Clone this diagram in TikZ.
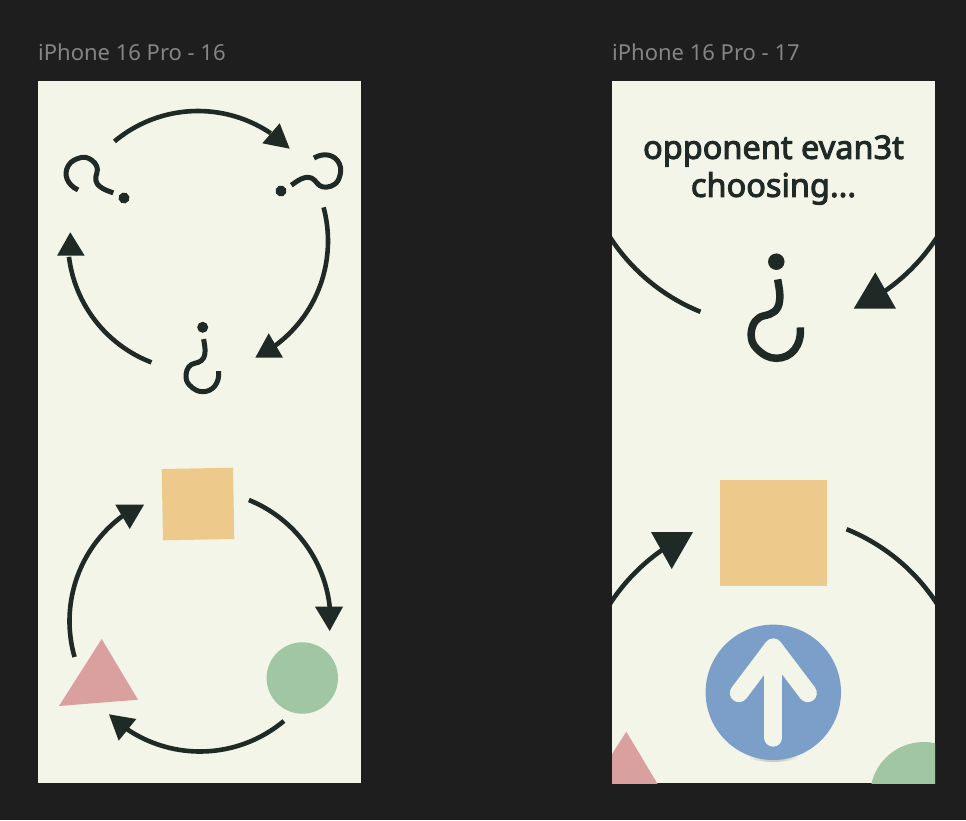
\documentclass[tikz,border=0pt]{standalone}
\usepackage{fontspec}
\setmainfont{Noto Sans}
\newfontfamily\oppfont{Noto Sans}[FakeBold=3]
\definecolor{canvasbg}{HTML}{1E1E1E}
\definecolor{panelbg}{HTML}{F3F5E8}
\definecolor{ink}{HTML}{1F2926}
\definecolor{framegray}{HTML}{858585}
\definecolor{sandsq}{HTML}{EEC98C}
\definecolor{leafgreen}{HTML}{A0C6A3}
\definecolor{rosetri}{HTML}{D9A09F}
\definecolor{skyblue}{HTML}{7C9FC9}
\tikzset{
    ringline/.style={draw=ink, line width=4.6pt},
    headtip/.style={fill=ink},
    framelabel/.style={text=framegray, font=\fontsize{22}{26}\selectfont, anchor=west, inner sep=0pt},
    qmark/.pic={
        \fill[ink] (0,0) circle (5.5);
        \draw[ink, line width=5pt*\qscale, line join=round]
            (0.9,11.8) .. controls (2,18) and (2.8,22) .. (2.2,26)
            .. controls (1.5,33) and (-3,35) .. (-8,36)
            .. controls (-13,37) and (-16,41) .. (-16.7,47)
            .. controls (-17,52) and (-16,55) .. (-13,58)
            .. controls (-9,62) and (-5,64.4) .. (0,64.4)
            .. controls (10,64.4) and (17,56) .. (16,43.8);
    }
}
\newcommand{\qscale}{1}
\begin{document}
\begin{tikzpicture}[x=1pt, y=-1pt]
    % 1. Nền và hai khung
    \fill[canvasbg] (0,0) rectangle (966,820);
    \fill[panelbg] (38,81) rectangle (361,783);
    \fill[panelbg] (612,81) rectangle (935,783);
    \node[framelabel] (frameA) at (38,52) {iPhone 16 Pro - 16};
    \node[framelabel] (frameB) at (612,52) {iPhone 16 Pro - 17};

    % 2. Vòng dấu hỏi bên trái
    \pic at (124,198) [rotate=-120] {qmark};
    \pic at (281,191) [rotate=115] {qmark};
    \pic at (202.7,327.3) {qmark};
    \draw[ringline] plot[domain=230:304, samples=40] ({198+130*cos(\x)}, {241+130*sin(\x)});
    \draw[ringline] plot[domain=-15:55, samples=40] ({198+130*cos(\x)}, {241+130*sin(\x)});
    \draw[ringline] plot[domain=111:173, samples=40] ({198+130*cos(\x)}, {241+130*sin(\x)});
    \fill[headtip] (289.7,148.7) -- (279.7,123.3) -- (262.3,143.3) -- cycle;
    \fill[headtip] (268.7,333.3) -- (255.3,357.7) -- (283,357.7) -- cycle;
    \fill[headtip] (70.3,232.3) -- (57,255.7) -- (84.7,255.7) -- cycle;

    % 3. Vòng hình khối bên trái
    \fill[sandsq] (161.7,469) -- (233,467.7) -- (234.3,539) -- (163,540.3) -- cycle;
    \fill[leafgreen] (302.3,678) circle (35.7);
    \fill[rosetri] (101.7,639) -- (138,699.7) -- (59,706) -- cycle;
    \draw[ringline] plot[domain=-68:-6, samples=40] ({200+130.5*cos(\x)}, {621+130.5*sin(\x)});
    \draw[ringline] plot[domain=50:127, samples=40] ({200+130.5*cos(\x)}, {621+130.5*sin(\x)});
    \draw[ringline] plot[domain=164:235, samples=40] ({200+130.5*cos(\x)}, {621+130.5*sin(\x)});
    \fill[headtip] (329.7,631) -- (315,606.7) -- (343,606.7) -- cycle;
    \fill[headtip] (109,714.3) -- (136.3,719) -- (118.7,740.7) -- cycle;
    \fill[headtip] (115.3,504.7) -- (144,504.7) -- (129.7,529) -- cycle;

    % 4. Khung bên phải, cắt theo khung
    \begin{scope}
        \clip (612,81) rectangle (935,783);
        \draw[ringline] plot[domain=112:165, samples=40] ({773.5+195*cos(\x)}, {131+195*sin(\x)});
        \draw[ringline] plot[domain=15:55, samples=40] ({773.5+195*cos(\x)}, {131+195*sin(\x)});
        \draw[ringline] plot[domain=195:236, samples=40] ({773.5+195*cos(\x)}, {710+195*sin(\x)});
        \draw[ringline] plot[domain=-68:-20, samples=40] ({773.5+195*cos(\x)}, {710+195*sin(\x)});
        \fill[rosetri] (626.3,731.7) -- (680.8,822.7) -- (562,832) -- cycle;
        \fill[leafgreen] (923.7,795.6) circle (53.6);
    \end{scope}
    \node[text=ink, font=\oppfont\fontsize{32.5}{38}\selectfont, align=center] (oppText) at (773.5,170) {opponent evan3t\\choosing...};
    \renewcommand{\qscale}{1.5}
    \pic at (776.3,261.7) [scale=1.5] {qmark};
    \fill[headtip] (875.3,272.3) -- (853.7,308.7) -- (896,308.7) -- cycle;
    \fill[sandsq] (720,480) rectangle (827,586);
    \fill[headtip] (651,532) -- (693,532) -- (671.7,569) -- cycle;

    % 5. Nút mũi tên
    \foreach \w/\o in {24/0.10, 20/0.12, 15/0.15}
        \fill[gray, opacity=\o] (773.3,757) ellipse ({\w} and 5);
    \fill[skyblue] (773.3,692.3) circle (67.7);
    \draw[panelbg, line width=18.3pt, line cap=round, line join=round] (773.3,737.5) -- (773.3,650);
    \draw[panelbg, line width=18.3pt, line cap=round, line join=round] (739,693) -- (773.3,647.5) -- (807.7,693);
\end{tikzpicture}
\end{document}
